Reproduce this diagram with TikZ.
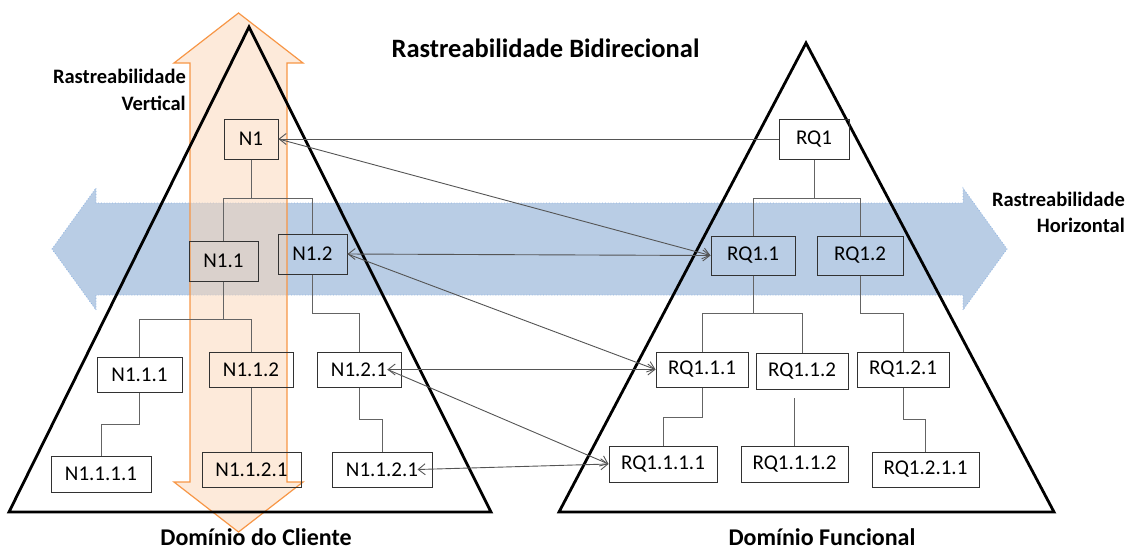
\documentclass[tikz,border=0pt]{standalone}
\usepackage{fontspec}
\setmainfont{Carlito}
\usetikzlibrary{arrows.meta}

\definecolor{hband}{RGB}{185,205,229}
\definecolor{hbandline}{RGB}{141,179,226}
\definecolor{vband}{RGB}{251,213,181}
\definecolor{vbandline}{RGB}{247,150,70}
\definecolor{boxline}{RGB}{50,50,50}
\definecolor{treeline}{RGB}{100,100,100}
\definecolor{traceline}{RGB}{85,85,85}

\begin{document}
\begin{tikzpicture}[x=1pt,y=-1pt,
  box/.style={draw=boxline, line width=1pt, inner sep=0pt,
    font=\fontsize{21}{25}\selectfont},
  tree/.style={draw=treeline, line width=1pt},
  trace/.style={draw=traceline, line width=0.9pt},
  >={Straight Barb[length=7pt,width=11pt]},
  tri/.style={draw=black, line width=2.8pt, line join=miter},
  lbl/.style={inner sep=0pt, font=\bfseries\fontsize{20.5}{24}\selectfont},
  dom/.style={inner sep=0pt, font=\bfseries\fontsize{24}{28}\selectfont},
  ttl/.style={inner sep=0pt, font=\bfseries\fontsize{26.5}{30}\selectfont}
]
\useasboundingbox (0,0) rectangle (1126,550);

% horizontal traceability band
\path[fill=hband, draw=hbandline, line width=0.8pt, dotted]
  (52,249) -- (96,188) -- (96,203) -- (963,203) -- (963,188) -- (1007,249)
  -- (963,310) -- (963,295) -- (96,295) -- (96,310) -- cycle;

% vertical traceability band
\path[fill=vband, fill opacity=0.5, draw=vbandline, line width=1.2pt]
  (238.5,13) -- (303,63) -- (287,63) -- (287,482) -- (303,482) -- (238.5,532)
  -- (174,482) -- (190,482) -- (190,63) -- (174,63) -- cycle;

% the two domains
\draw[tri] (249,27) -- (491,512) -- (9,512) -- cycle;
\draw[tri] (806,43) -- (1054,512) -- (559,512) -- cycle;

% customer domain
\node[box, minimum width=54, minimum height=40] (n1) at (251,139) {N1};
\node[box, minimum width=69, minimum height=40] (n11) at (223.5,261) {N1.1};
\node[box, minimum width=69, minimum height=40] (n12) at (312.5,254) {N1.2};
\node[box, minimum width=85, minimum height=35] (n111) at (139.5,374.5) {N1.1.1};
\node[box, minimum width=84, minimum height=35] (n112) at (251,369.5) {N1.1.2};
\node[box, minimum width=84, minimum height=35] (n121) at (359,369.5) {N1.2.1};
\node[box, minimum width=100, minimum height=36] (n1111) at (101,474) {N1.1.1.1};
\node[box, minimum width=99, minimum height=35] (n1121) at (251.5,469.5) {N1.1.2.1};
\node[box, minimum width=100, minimum height=35] (n1121b) at (382,469.5) {N1.1.2.1};

% functional domain
\node[box, minimum width=70, minimum height=40] (rq1) at (814,139) {RQ1};
\node[box, minimum width=84, minimum height=39] (rq11) at (753,255.5) {RQ1.1};
\node[box, minimum width=86, minimum height=39] (rq12) at (860,255.5) {RQ1.2};
\node[box, minimum width=92, minimum height=35] (rq111) at (702,369.5) {RQ1.1.1};
\node[box, minimum width=92, minimum height=36] (rq112) at (802,371) {RQ1.1.2};
\node[box, minimum width=92, minimum height=35] (rq121) at (903,369.5) {RQ1.2.1};
\node[box, minimum width=108, minimum height=36] (rq1111) at (663,464) {RQ1.1.1.1};
\node[box, minimum width=107, minimum height=36] (rq1112) at (794.5,464) {RQ1.1.1.2};
\node[box, minimum width=107, minimum height=35] (rq1211) at (925.5,469.5) {RQ1.2.1.1};

% customer tree
\draw[tree] (n1.south) -- ++(0,39) coordinate (j1) -| (n11.north);
\draw[tree] (j1) -| (n12.north);
\draw[tree] (n11.south) -- ++(0,38) coordinate (j11) -| (n111.north);
\draw[tree] (j11) -| (n112.north);
\draw[tree] (n12.south) -- ++(0,39) -| (n121.north);
\draw[tree] (n111.south) -- ++(0,32) -| (n1111.north);
\draw[tree] (n112.south) -- (n112.south |- n1121.north);
\draw[tree] (n121.south) -- ++(0,32) -| (n1121b.north);

% functional tree
\draw[tree] (rq1.south) -- ++(0,39) coordinate (k1) -| (rq11.north);
\draw[tree] (k1) -| (rq12.north);
\draw[tree] (rq11.south) -- ++(0,38) coordinate (k11) -| (rq111.north);
\draw[tree] (k11) -| (rq112.north);
\draw[tree] (rq12.south) -- ++(0,38) -| (rq121.north);
\draw[tree] (rq111.south) -- ++(0,30) -| (rq1111.north);
\draw[tree] (rq1112.north) -- ++(0,-48);
\draw[tree] (rq121.south) -- ++(0,32) -| (rq1211.north);

% traceability links
\draw[trace, ->] (rq1.west) -- (n1.east);
\draw[trace, ->] (n1.east) -- (rq11.west);
\draw[trace, <->] (n12.east) -- (rq11.west);
\draw[trace, ->] (n12.east) -- (rq111.west);
\draw[trace, <->] ([xshift=-14pt]n121.east) -- (rq111.west);
\draw[trace, ->] ([xshift=-14pt]n121.east) -- (rq1111.west);
\draw[trace, <->] ([xshift=-15pt]n1121b.east) -- (rq1111.west);

% labels
\node[ttl, anchor=base] (title) at (545.5,57) {Rastreabilidade Bidirecional};
\node[lbl, anchor=base east] (vt1) at (186,83) {Rastreabilidade};
\node[lbl, anchor=base east] (vt2) at (186,110) {Vertical};
\node[lbl, anchor=base east] (ht1) at (1125,206) {Rastreabilidade};
\node[lbl, anchor=base east] (ht2) at (1125,232) {Horizontal};
\node[dom, anchor=base] (dc) at (256,545) {Domínio do Cliente};
\node[dom, anchor=base] (df) at (822,545) {Domínio Funcional};
\end{tikzpicture}
\end{document}
